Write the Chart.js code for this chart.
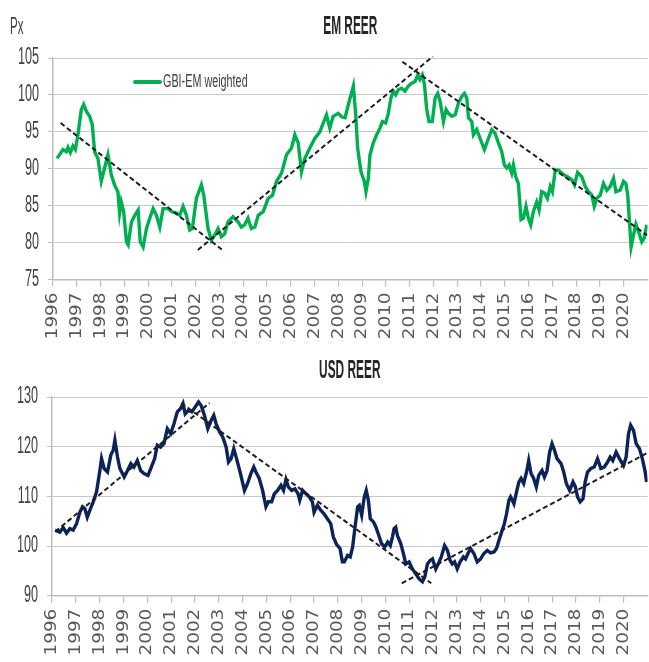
<!DOCTYPE html>
<html>
<head>
<meta charset="utf-8">
<script src="https://cdn.jsdelivr.net/npm/chart.js@4.4.1/dist/chart.umd.min.js"></script>
<style>
  html, body { margin: 0; padding: 0; background: #ffffff; }
  #wrap { position: relative; width: 649px; height: 662px; overflow: hidden; }
  #c1 { position: absolute; left: 0; top: 0; }
  #c2 { position: absolute; left: 0; top: 348px; }
</style>
</head>
<body>
<div id="wrap">
  <canvas id="c1" width="649" height="348"></canvas>
  <canvas id="c2" width="649" height="314"></canvas>
</div>
<script>
// ---------------- DATA ----------------
const yearTicks = [1996,1997,1998,1999,2000,2001,2002,2003,2004,2005,2006,2007,2008,2009,2010,2011,2012,2013,2014,2015,2016,2017,2018,2019,2020];

const emTitle = 'EM REER';
const emLabel = 'GBI-EM weighted';
const emUnit = 'Px';
const emDates = [
  1996.17,1996.42,1996.56,1996.63,1996.73,1996.84,1996.94,1997.05,1997.19,1997.29,1997.40,1997.54,1997.65,1997.75,1997.89,
  1998.03,1998.17,1998.31,1998.45,1998.59,1998.73,1998.80,1998.87,1998.97,1999.09,1999.16,1999.30,1999.44,1999.58,1999.67,1999.79,1999.93,
  2000.07,2000.21,2000.35,2000.49,2000.63,2000.84,2000.98,2001.19,2001.33,2001.47,2001.61,2001.75,2001.86,
  2002.03,2002.24,2002.34,2002.52,2002.66,2002.80,2002.94,2003.08,2003.22,2003.36,2003.57,2003.78,2003.92,
  2004.06,2004.20,2004.34,2004.49,2004.63,2004.84,2005.05,2005.23,2005.40,2005.61,2005.82,
  2006.03,2006.17,2006.31,2006.45,2006.59,2006.80,2007.01,2007.22,2007.39,2007.50,2007.64,2007.78,2007.99,2008.15,
  2008.28,2008.42,2008.63,2008.73,2008.81,2008.95,2009.09,2009.16,2009.26,2009.33,2009.47,2009.61,2009.75,2009.85,2009.99,
  2010.10,2010.21,2010.31,2010.41,2010.52,2010.66,2010.80,2010.94,2011.08,2011.22,2011.34,2011.43,2011.53,2011.62,2011.71,2011.81,2011.95,
  2012.07,2012.18,2012.28,2012.42,2012.53,2012.63,2012.77,2012.91,2013.05,2013.19,2013.30,2013.40,2013.47,2013.61,2013.68,2013.82,2013.96,
  2014.14,2014.31,2014.45,2014.59,2014.73,2014.87,2014.98,2015.08,2015.18,2015.29,2015.36,2015.46,2015.57,2015.68,2015.78,2015.89,2015.99,
  2016.09,2016.20,2016.34,2016.44,2016.55,2016.67,2016.79,2016.91,2017.00,2017.12,2017.26,2017.47,2017.65,2017.82,2017.93,
  2018.06,2018.24,2018.38,2018.52,2018.66,2018.76,2018.87,2019.01,2019.15,2019.29,2019.43,2019.57,2019.67,2019.85,2019.99,
  2020.09,2020.17,2020.24,2020.31,2020.41,2020.51,2020.62,2020.76,2020.86,2020.97
];
const emValues = [
  91.4,92.6,92.3,92.9,92.2,93.1,92.6,94.6,98.0,98.7,97.8,97.1,96.0,92.3,91.4,
  88.3,90.1,91.9,89.2,87.8,86.9,84.0,85.5,84.2,80.1,79.7,82.8,83.7,84.4,80.1,79.4,81.9,
  83.3,84.6,83.7,82.1,84.6,84.6,84.2,84.0,83.7,84.9,83.7,81.7,81.9,
  86.0,87.8,86.4,81.9,80.3,81.0,81.9,80.8,81.2,82.8,83.5,82.8,82.1,
  82.4,83.3,81.9,82.1,83.7,84.2,86.0,86.4,88.3,89.4,91.9,
  92.8,94.6,93.5,89.6,91.4,92.8,94.1,95.0,96.4,97.3,95.5,97.1,97.5,97.0,
  96.9,98.7,101.2,97.3,92.8,89.6,88.3,86.9,88.7,91.9,93.5,94.6,95.5,96.4,96.2,
  97.5,99.6,100.5,100.0,100.7,100.9,100.5,101.2,101.6,101.8,102.7,102.1,102.7,101.4,98.2,96.4,96.4,
  99.6,100.2,99.1,96.4,98.0,97.5,97.1,97.3,98.9,99.8,100.2,99.6,96.9,96.4,94.6,95.3,94.1,
  92.6,94.1,95.3,94.8,93.5,92.3,90.5,90.1,90.5,89.4,90.5,88.9,88.0,83.1,83.3,84.9,83.3,
  82.4,84.2,85.5,84.4,86.9,86.7,86.0,87.6,86.9,89.8,89.8,89.2,88.9,88.5,87.8,
  89.5,88.9,87.6,86.9,86.4,84.9,86.0,86.4,88.0,87.1,87.6,88.7,86.9,87.1,88.3,
  88.0,86.4,82.8,79.4,81.0,82.5,81.5,80.1,80.6,82.4
];
// EM trend lines (start/end)
const emTrendDates = [[1996.32, 2003.16], [2002.09, 2011.97], [2010.69, 2020.98]];
const emTrendValues = [[96.2, 78.9], [79.0, 105.2], [104.5, 81.0]];
const emTicksY = [75, 80, 85, 90, 95, 100, 105];

const usdTitle = 'USD REER';
const usdLabel = 'USD REER';
const usdDates = [
  1996.13,1996.33,1996.47,1996.61,1996.75,1996.89,1997.03,1997.17,1997.28,1997.38,1997.48,1997.59,1997.73,1997.87,
  1998.01,1998.08,1998.19,1998.33,1998.47,1998.57,1998.64,1998.75,1998.85,1999.03,1999.17,1999.31,1999.44,1999.58,1999.72,1999.86,
  2000.03,2000.17,2000.31,2000.42,2000.56,2000.70,2000.84,2000.98,2001.12,2001.26,2001.40,2001.50,2001.59,2001.73,2001.87,
  2002.01,2002.15,2002.26,2002.40,2002.54,2002.68,2002.79,2002.89,2003.03,2003.17,2003.31,2003.41,2003.52,2003.63,2003.77,2003.91,
  2004.08,2004.21,2004.35,2004.47,2004.56,2004.70,2004.84,2004.98,2005.08,2005.22,2005.33,2005.47,2005.61,2005.72,2005.82,2005.92,
  2006.06,2006.20,2006.33,2006.40,2006.52,2006.66,2006.80,2006.93,2007.00,2007.14,2007.28,2007.42,2007.56,2007.70,2007.81,2007.95,
  2008.09,2008.19,2008.27,2008.41,2008.52,2008.62,2008.72,2008.83,2008.90,2009.00,2009.11,2009.19,2009.28,2009.36,2009.50,2009.60,2009.74,2009.83,2009.97,
  2010.09,2010.20,2010.29,2010.36,2010.43,2010.50,2010.64,2010.75,2010.85,2010.99,2011.13,2011.27,2011.41,2011.55,2011.65,2011.76,2011.87,2011.97,
  2012.11,2012.25,2012.34,2012.48,2012.60,2012.71,2012.80,2012.90,2013.01,2013.13,2013.27,2013.36,2013.46,2013.57,2013.71,2013.85,2013.99,
  2014.13,2014.27,2014.41,2014.55,2014.66,2014.76,2014.90,2014.99,2015.08,2015.18,2015.25,2015.39,2015.50,2015.60,2015.69,2015.80,2015.92,
  2016.01,2016.11,2016.22,2016.33,2016.43,2016.57,2016.67,2016.78,2016.89,2016.99,2017.09,2017.20,2017.37,2017.48,2017.59,2017.73,2017.87,2017.97,
  2018.06,2018.17,2018.29,2018.38,2018.48,2018.62,2018.76,2018.90,2019.04,2019.18,2019.32,2019.43,2019.54,2019.68,2019.82,2019.99,
  2020.10,2020.20,2020.29,2020.41,2020.52,2020.66,2020.78,2020.89,2020.96
];
const usdValues = [
  103.2,102.8,103.7,102.6,103.5,103.2,104.5,106.8,107.9,107.5,105.8,107.2,108.9,110.9,
  115.2,117.6,115.6,114.9,118.3,119.3,121.3,117.9,115.6,113.9,115.2,116.6,115.9,117.2,115.2,114.6,
  114.2,115.9,117.6,120.3,119.9,120.6,123.6,122.6,124.6,127.0,127.7,128.7,126.6,127.3,127.0,
  128.0,129.0,128.3,126.3,123.6,125.3,126.3,124.6,123.0,121.9,119.9,116.9,117.6,119.6,117.2,114.6,
  111.2,112.6,114.6,115.9,114.9,113.6,111.2,107.9,108.9,108.9,110.5,111.2,112.2,111.2,113.4,111.9,
  111.2,111.5,110.5,109.2,111.2,110.5,109.9,108.9,106.8,108.2,107.2,106.5,105.5,104.5,101.8,100.3,
  99.5,96.8,96.8,98.1,97.8,99.8,103.8,107.9,108.2,106.2,109.9,111.2,109.2,105.5,104.8,103.8,101.8,100.5,99.8,
  100.8,100.1,101.8,103.5,103.8,102.1,100.5,98.5,96.4,96.8,95.4,94.4,93.4,92.8,93.8,96.4,97.1,97.4,
  95.4,96.8,97.8,100.1,99.1,97.1,96.4,96.8,95.4,96.8,97.8,97.4,98.5,99.5,98.5,96.8,97.4,
  98.5,99.1,98.6,98.8,99.5,101.1,103.2,104.5,106.5,109.2,109.9,108.5,110.9,112.9,113.6,112.6,114.9,
  117.2,114.6,113.6,111.9,114.2,115.2,113.9,115.2,118.9,120.6,119.3,117.6,116.6,114.9,112.6,111.2,112.9,111.9,
  109.9,108.9,109.5,112.9,114.9,115.6,115.9,117.6,115.6,115.9,116.9,117.9,117.2,118.9,117.6,116.2,
  117.9,122.6,124.3,123.3,120.6,119.6,117.6,115.2,112.9
];
const usdTrendDates = [[1996.14, 2002.61], [2001.42, 2011.92], [2010.68, 2020.98]];
const usdTrendValues = [[102.9, 128.8], [128.8, 92.5], [92.5, 118.7]];
const usdTicksY = [90, 100, 110, 120, 130];

// ---------------- STYLES ----------------
const SANS = "'Liberation Sans', Arial, sans-serif";
const GREEN = '#00b050';
const NAVY = '#0c2358';
const Y_SQUEEZE = 0.55;   // condensed look of the value labels
const T_SQUEEZE = 0.475;  // condensed look of the titles
const X_STRETCH = 1.15;   // wide-spaced year labels

function pts(xs, ys) { return xs.map((x, i) => ({ x: x, y: ys[i] })); }

function trendSets(dates, values) {
  return dates.map((d, i) => ({
    label: 'trend' + (i + 1),
    data: pts(d, values[i]),
    borderColor: '#1e1e1e',
    borderWidth: 2,
    borderDash: [5, 3],
    pointRadius: 0,
    fill: false,
    clip: false,
    order: 0
  }));
}

const textTweaks = {
  id: 'textTweaks',
  beforeDraw(chart) {
    if (chart._tweaked) return;
    chart._tweaked = true;
    const xs = chart.scales.x, ys = chart.scales.y, tb = chart.titleBlock;
    const ox = xs.drawLabels;
    xs.drawLabels = function (a) {
      const c = this.ctx;
      const y0 = this.top + this.options.grid.tickLength + this.options.ticks.padding;
      c.save(); c.translate(0, y0); c.scale(1, X_STRETCH); c.translate(0, -y0);
      ox.call(this, a);
      c.restore();
    };
    const oy = ys.drawLabels;
    ys.drawLabels = function (a) {
      const c = this.ctx;
      const x0 = this.right - this.options.grid.tickLength - this.options.ticks.padding;
      c.save(); c.translate(x0, 0); c.scale(Y_SQUEEZE, 1); c.translate(-x0, 0);
      oy.call(this, a);
      c.restore();
    };
    if (tb) {
      const ot = tb.draw;
      tb.draw = function (a) {
        const c = this.ctx;
        const cx = (this.left + this.right) / 2;
        c.save(); c.translate(cx, 0); c.scale(T_SQUEEZE, 1); c.translate(-cx, 0);
        ot.call(this, a);
        c.restore();
      };
    }
  }
};

function squeezedText(c, txt, x, y, sx) {
  c.save();
  c.translate(x, 0); c.scale(sx, 1);
  c.fillText(txt, 0, y);
  c.restore();
}

function makeExtras(opts) {
  return {
    id: 'extras',
    afterDraw(chart) {
      const c = chart.ctx;
      c.save();
      c.textBaseline = 'middle';
      c.textAlign = 'left';
      c.fillStyle = '#404040';
      if (opts.unit) {
        c.font = '23px ' + SANS;
        squeezedText(c, opts.unit, 10, 28, 0.5);
      }
      if (opts.legend) {
        const ds = chart.data.datasets[opts.legend.index];
        c.strokeStyle = ds.borderColor;
        c.lineWidth = 4;
        c.lineCap = 'round';
        c.beginPath();
        c.moveTo(135, 82);
        c.lineTo(160, 82);
        c.stroke();
        c.font = '18px ' + SANS;
        c.fillStyle = '#404040';
        squeezedText(c, ds.label, 163, 82, 0.6);
      }
      c.restore();
    }
  };
}

function makeChart(canvasId, cfg) {
  return new Chart(document.getElementById(canvasId), {
    type: 'line',
    data: {
      datasets: [
        ...trendSets(cfg.trendDates, cfg.trendValues),
        {
          label: cfg.label,
          data: pts(cfg.dates, cfg.values),
          borderColor: cfg.color,
          backgroundColor: cfg.color,
          borderWidth: 3.4,
          pointRadius: 0,
          tension: 0,
          fill: false,
          order: 1
        }
      ]
    },
    options: {
      responsive: false,
      animation: false,
      devicePixelRatio: 1,
      layout: { padding: { left: 0, right: 1, top: 0, bottom: 0 } },
      plugins: {
        legend: { display: false },
        tooltip: { enabled: false },
        title: {
          display: true,
          text: cfg.title,
          fullSize: false,
          color: '#262626',
          font: { family: SANS, size: 25, weight: 'bold', lineHeight: 1 },
          padding: cfg.titlePad
        }
      },
      scales: {
        x: {
          type: 'linear',
          min: 1996,
          max: 2021,
          afterBuildTicks: (s) => { s.ticks = yearTicks.map(v => ({ value: v })); },
          afterFit: (s) => { s.height = cfg.xHeight; },
          grid: {
            display: true,
            drawOnChartArea: false,
            drawTicks: true,
            tickLength: 7,
            color: '#bdbdbd',
            lineWidth: 1.2
          },
          border: { display: true, color: '#bdbdbd', width: 1.5 },
          ticks: {
            autoSkip: false,
            minRotation: 90,
            maxRotation: 90,
            padding: 6,
            color: '#595959',
            font: { family: "'DejaVu Sans', sans-serif", size: 16 },
            callback: (v) => String(v)
          }
        },
        y: {
          min: cfg.yMin,
          max: cfg.yMax,
          afterBuildTicks: (s) => { s.ticks = cfg.yTicks.map(v => ({ value: v })); },
          afterFit: (s) => { s.width = cfg.yWidth; },
          grid: {
            display: true,
            drawTicks: true,
            tickLength: 5,
            color: '#c8c8c8',
            tickColor: '#bdbdbd',
            lineWidth: 1,
            borderDash: [3, 2]
          },
          border: { display: true, color: '#bdbdbd', width: 1.5 },
          ticks: {
            padding: 9,
            color: '#404040',
            font: { family: SANS, size: 23 }
          }
        }
      }
    },
    plugins: [textTweaks, makeExtras(cfg.extras)]
  });
}

makeChart('c1', {
  title: emTitle,
  label: emLabel,
  dates: emDates,
  values: emValues,
  trendDates: emTrendDates,
  trendValues: emTrendValues,
  color: GREEN,
  yMin: 75, yMax: 105, yTicks: emTicksY,
  yWidth: 53,
  xHeight: 68.5,
  titlePad: { top: 15, bottom: 18 },
  extras: { unit: emUnit, legend: { index: 3 } }
});

makeChart('c2', {
  title: usdTitle,
  label: usdLabel,
  dates: usdDates,
  values: usdValues,
  trendDates: usdTrendDates,
  trendValues: usdTrendValues,
  color: NAVY,
  yMin: 90, yMax: 130, yTicks: usdTicksY,
  yWidth: 52,
  xHeight: 66.3,
  titlePad: { top: 11, bottom: 13 },
  extras: {}
});
</script>
</body>
</html>
